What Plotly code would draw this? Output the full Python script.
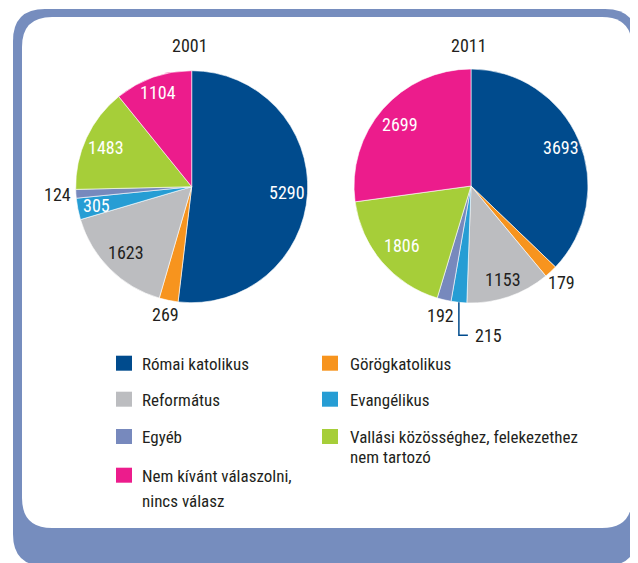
import math
import plotly.graph_objects as go

# ---- data ----
categories = ["Római katolikus", "Görögkatolikus", "Református", "Evangélikus",
              "Egyéb", "Vallási közösséghez, felekezethez nem tartozó",
              "Nem kívánt válaszolni, nincs válasz"]
legend_lines = [["Római katolikus"], ["Görögkatolikus"], ["Református"], ["Evangélikus"],
                ["Egyéb"], ["Vallási közösséghez, felekezethez", "nem tartozó"],
                ["Nem kívánt válaszolni,", "nincs válasz"]]
years = ["2001", "2011"]
values_2001 = [5290, 269, 1623, 305, 124, 1483, 1104]
values_2011 = [3693, 179, 1153, 215, 192, 1806, 2699]

# ---- style ----
colors = ["#004b8d", "#f7941e", "#bcbdc0", "#269dd4", "#7789bd", "#a6ce39", "#ec1c8c"]
FONT = "Roboto Condensed, Liberation Sans Narrow, sans-serif"
DARK = "#231f20"
W, H = 638, 563
OFF = 8  # page body margin
FRAME = "#768dbe"
FS = 17

# pie placement (pixels in screenshot): center x, center y, radius
pies = [dict(cx=191.7, cy=186.7, r=116), dict(cx=471, cy=186, r=117)]
# label radial fractions (None = leader line)
label_r = [[0.82, 1.12, 0.80, 0.84, 1.155, 0.81, 0.86],
           [0.84, 1.13, 0.84, None, 1.14, 0.78, 0.80]]
label_col = [["white", DARK, DARK, "white", DARK, "white", "white"],
             ["white", DARK, DARK, DARK, DARK, "white", "white"]]


def px(x):
    return (x - OFF) / W


def py(y):
    return 1 - (y - OFF) / H


fig = go.Figure()
annotations = []
shapes = []


def rrect(x0, y0, x1, y1, r):
    return (f"M {px(x0 + r)},{py(y0)} L {px(x1 - r)},{py(y0)} "
            f"Q {px(x1)},{py(y0)} {px(x1)},{py(y0 + r)} "
            f"L {px(x1)},{py(y1 - r)} Q {px(x1)},{py(y1)} {px(x1 - r)},{py(y1)} "
            f"L {px(x0 + r)},{py(y1)} Q {px(x0)},{py(y1)} {px(x0)},{py(y1 - r)} "
            f"L {px(x0)},{py(y0 + r)} Q {px(x0)},{py(y0)} {px(x0 + r)},{py(y0)} Z")


shapes.append(dict(type="path", xref="paper", yref="paper", path=rrect(13, 9, 637, 566, 32),
                   fillcolor=FRAME, line=dict(width=0), layer="below"))
shapes.append(dict(type="path", xref="paper", yref="paper", path=rrect(22, 17, 632, 528, 30),
                   fillcolor="white", line=dict(width=0), layer="below"))


def label(x, y, text, color, size, xanchor="center", yanchor="middle"):
    annotations.append(dict(x=px(x), y=py(y), xref="paper", yref="paper",
                            xanchor=xanchor, yanchor=yanchor, text=text, showarrow=False,
                            font=dict(family=FONT, size=size, color=color)))


for k, (vals, year) in enumerate(zip([values_2001, values_2011], years)):
    p = pies[k]
    fig.add_trace(go.Pie(
        labels=categories, values=vals, sort=False, direction="clockwise", rotation=0,
        marker=dict(colors=colors, line=dict(color="white", width=0.6)),
        textinfo="none", hoverinfo="label+value", showlegend=False, name=year,
        domain=dict(x=[px(p["cx"] - p["r"]), px(p["cx"] + p["r"])],
                    y=[py(p["cy"] + p["r"]), py(p["cy"] - p["r"])]),
    ))
    label(p["cx"] - 2, 46, year, DARK, FS + 1)
    total = sum(vals)
    cum = 0
    for i, v in enumerate(vals):
        mid = (cum + v / 2) / total * 2 * math.pi
        cum += v
        dx, dy = math.sin(mid), -math.cos(mid)
        f = label_r[k][i]
        if f is None:
            ex, ey = p["cx"] + p["r"] * dx, p["cy"] + p["r"] * dy
            ly = ey + 33
            lx = ex + 9
            shapes.append(dict(type="path", xref="paper", yref="paper",
                               path=f"M {px(ex)},{py(ey)} L {px(ex)},{py(ly)} L {px(lx)},{py(ly)}",
                               line=dict(color="#004b8d", width=1.5)))
            label(lx + 5, ly, str(v), label_col[k][i], FS + 1, xanchor="left")
        else:
            label(p["cx"] + f * p["r"] * dx, p["cy"] + f * p["r"] * dy,
                  str(v), label_col[k][i], FS + 1)

# ---- manual legend (2 columns) ----
col_sq = [116, 322]
col_tx = [140, 348]
row_base = [370.7, 406.7, 444, 482.7]
second_line_gap = [0, 0, 0, 0, 0, 19.5, 25]
for i, (lines, c) in enumerate(zip(legend_lines, colors)):
    r, cidx = divmod(i, 2)
    b = row_base[r]
    shapes.append(dict(type="rect", xref="paper", yref="paper",
                       x0=px(col_sq[cidx]), x1=px(col_sq[cidx] + 16),
                       y0=py(b), y1=py(b - 15), fillcolor=c, line=dict(width=0)))
    for j, line in enumerate(lines):
        label(col_tx[cidx], b - 19 + j * second_line_gap[i], line, DARK, FS,
              xanchor="left", yanchor="top")

fig.update_layout(width=W, height=H, margin=dict(l=0, r=0, t=0, b=0),
                  paper_bgcolor="white", plot_bgcolor="white",
                  shapes=shapes, annotations=annotations, showlegend=False,
                  font=dict(family=FONT, color=DARK))
fig.write_html("out.html")
